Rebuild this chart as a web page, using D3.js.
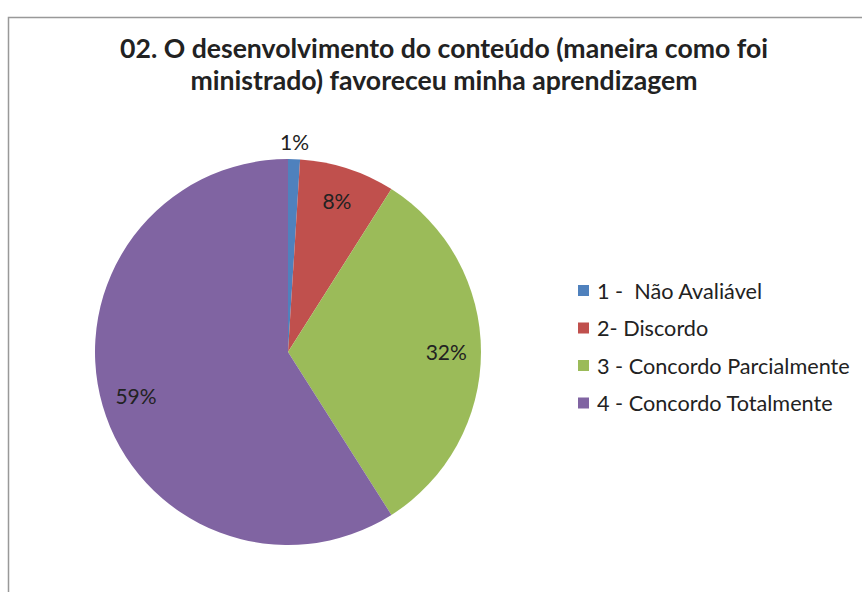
<!DOCTYPE html>
<html>
<head>
<meta charset="utf-8">
<script src="https://cdn.jsdelivr.net/npm/d3@7"></script>
<style>
  body { margin: 0; background: #fff; }
  text { font-family: Lato, "Open Sans", sans-serif; fill: #222; }
</style>
</head>
<body>
<div id="chart"></div>
<script>
var width = 862, height = 592;

// data
var categories = ["1 -  Não Avaliável", "2- Discordo", "3 - Concordo Parcialmente", "4 - Concordo Totalmente"];
var values = [1, 8, 32, 59];
var colors = ["#4F81BD", "#C0504D", "#9BBB59", "#8064A2"];
var titleLines = ["02. O desenvolvimento do conteúdo (maneira como foi", "ministrado) favoreceu minha aprendizagem"];

var svg = d3.select("#chart").append("svg")
    .attr("width", width)
    .attr("height", height);

// chart frame
svg.append("rect")
    .attr("x", 8.5).attr("y", 17.5)
    .attr("width", 870).attr("height", 600)
    .attr("fill", "#fff")
    .attr("stroke", "#999")
    .attr("stroke-width", 1.5);

// title
var title = svg.append("text")
    .attr("text-anchor", "middle")
    .style("font-weight", "bold")
    .style("font-size", "22px");
title.selectAll("tspan")
    .data(titleLines)
    .enter().append("tspan")
    .attr("x", 444)
    .attr("y", function(d, i) { return 58 + i * 32; })
    .text(function(d) { return d; });

// fit title font to the width seen in the reference
var tw = title.select("tspan").node().getComputedTextLength();
title.style("font-size", (22 * 648 / tw) + "px");

// pie
var cx = 288, cy = 352, r = 193;
var pie = d3.pie().sort(null).value(function(d) { return d; });
var arcs = pie(values);
var arc = d3.arc().innerRadius(0).outerRadius(r);

var g = svg.append("g").attr("transform", "translate(" + cx + "," + cy + ")");

g.selectAll("path")
    .data(arcs)
    .enter().append("path")
    .attr("d", arc)
    .attr("fill", function(d, i) { return colors[i]; });

// data labels: first one sits outside, the others inside
var labelArcIn = d3.arc().innerRadius(r * 0.82).outerRadius(r * 0.82);
var labelArcOut = d3.arc().innerRadius(r * 1.085).outerRadius(r * 1.085);

g.selectAll(".lbl")
    .data(arcs)
    .enter().append("text")
    .attr("class", "lbl")
    .attr("transform", function(d, i) {
        var p = (i === 0 ? labelArcOut : labelArcIn).centroid(d);
        return "translate(" + p[0] + "," + p[1] + ")";
    })
    .attr("text-anchor", "middle")
    .attr("dy", "0.36em")
    .style("font-size", "21px")
    .text(function(d) { return d.data + "%"; });

// legend
var legend = svg.append("g").attr("transform", "translate(578,291)");
var item = legend.selectAll("g")
    .data(categories)
    .enter().append("g")
    .attr("transform", function(d, i) { return "translate(0," + (i * 37.5) + ")"; });

item.append("rect")
    .attr("x", 0).attr("y", -6)
    .attr("width", 11).attr("height", 11)
    .attr("fill", function(d, i) { return colors[i]; });

item.append("text")
    .attr("x", 19)
    .attr("dy", "0.36em")
    .style("font-size", "18px")
    .style("white-space", "pre")
    .text(function(d) { return d; });

// fit legend font to reference width of the longest entry
var lw = item.filter(function(d, i) { return i === 2; }).select("text").node().getComputedTextLength();
item.selectAll("text").style("font-size", (18 * 253 / lw) + "px");
</script>
</body>
</html>
